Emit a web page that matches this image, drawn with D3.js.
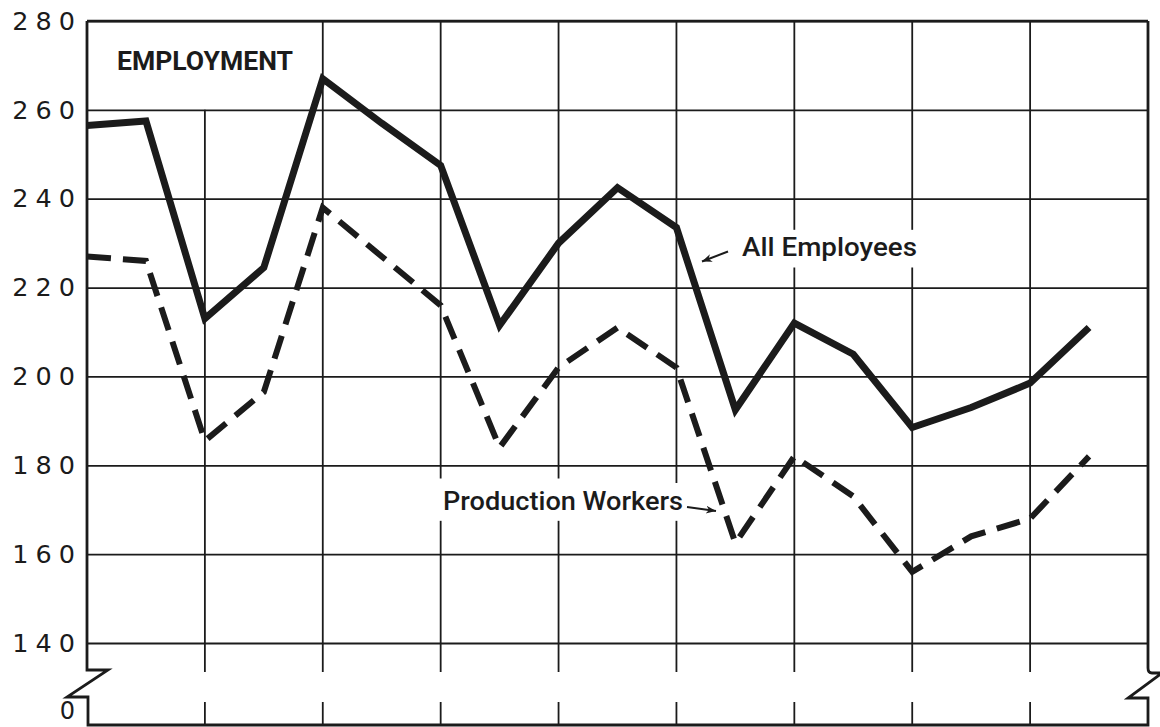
<!DOCTYPE html>
<html>
<head>
<meta charset="utf-8">
<script src="https://cdn.jsdelivr.net/npm/d3@7"></script>
<style>
  body { margin: 0; background: #fff; }
  .tick text { font-family: "DejaVu Sans", sans-serif; }
</style>
</head>
<body>
<svg id="chart" width="1160" height="727"></svg>
<script>
// half-year steps, 18 readings
const periods = d3.range(18);
const allEmployees = [256.5, 257.5, 213, 224.5, 267, 257, 247.5, 211.5, 230, 242.5, 233.5, 192.5, 212, 205, 188.5, 193, 198.5, 211];
const productionWorkers = [227, 226, 185.5, 196.5, 238, 227, 216, 184, 202, 211, 202, 162.5, 182, 173, 156, 164, 168, 182];
const yTicks = [140, 160, 180, 200, 220, 240, 260, 280];
const gridCols = [2, 4, 6, 8, 10, 12, 14, 16];
const chartTitle = 'EMPLOYMENT';
const seriesNames = ['All Employees', 'Production Workers'];

const mLeft = 87, mRight = 1148, mTop = 21, y140 = 643, base = 725;
const ink = '#1b1b1b';

const svg = d3.select('#chart');

let x = d3.scaleLinear().domain([0, 18]).range([mLeft, mRight]);
let y = d3.scaleLinear().domain([140, 280]).range([y140, mTop]);

// where the drawing leaves gaps in the vertical rules (y values)
const breakTop = 672, breakBot = 702;
const colGaps = {
    2: [[280, 260]],
    6: [[177, 167.5]],
    8: [[177, 167.5]],
    10: [[176, 167.5]],
    12: [[233, 224.5]],
    14: [[233, 224.5]]
};

// horizontal rules
svg.append('g')
    .attr('transform', 'translate(' + mLeft + ',0)')
    .call(d3.axisLeft(y).tickValues(yTicks).tickSize(-(mRight - mLeft)).tickFormat(''))
    .call(g => g.select('.domain').remove())
    .selectAll('line')
    .attr('stroke', ink).attr('stroke-width', 1.8);

// vertical rules, broken where labels sit and at the axis break
let vg = svg.append('g');
gridCols.forEach(c => {
    let segs = [[mTop, breakTop], [breakBot, base]];
    (colGaps[c] || []).forEach(gp => {
        let a = y(gp[0]), b = y(gp[1]);
        segs = segs.flatMap(s => {
            if (b <= s[0] || a >= s[1]) return [s];
            let out = [];
            if (a > s[0]) out.push([s[0], a]);
            if (b < s[1]) out.push([b, s[1]]);
            return out;
        });
    });
    segs.forEach(s => {
        vg.append('line')
            .attr('x1', x(c)).attr('x2', x(c))
            .attr('y1', s[0]).attr('y2', s[1])
            .attr('stroke', ink).attr('stroke-width', 1.8);
    });
});

// frame with broken-axis marks
svg.append('path')
    .attr('d', 'M' + mLeft + ',' + mTop + ' H' + mRight)
    .attr('stroke', ink).attr('stroke-width', 2.4).attr('fill', 'none');
svg.append('path')
    .attr('d', 'M' + mLeft + ',' + mTop + ' V670 H108 L67,697 H' + (mLeft + 1) + ' V' + base +
               ' H' + mRight + ' V698 H1128 L1162,673 H1152 Q1148,673 1148,668 V' + mTop)
    .attr('stroke', ink).attr('stroke-width', 2.8).attr('fill', 'none')
    .attr('stroke-linejoin', 'miter');

// y tick labels
svg.append('g')
    .attr('transform', 'translate(' + mLeft + ',0)')
    .call(d3.axisLeft(y).tickValues(yTicks).tickSize(0).tickPadding(5))
    .call(g => g.select('.domain').remove())
    .selectAll('text')
    .attr('font-size', 25.5)
    .attr('letter-spacing', 7)
    .attr('fill', ink);
svg.append('text')
    .attr('x', mLeft - 5).attr('y', base - 6)
    .attr('text-anchor', 'end')
    .attr('font-family', '"DejaVu Sans", sans-serif')
    .attr('font-size', 24).attr('letter-spacing', 7)
    .attr('fill', ink)
    .text('0');

// series lines
let line = d3.line().x((d, i) => x(periods[i])).y(d => y(d));

svg.append('path')
    .datum(productionWorkers)
    .attr('d', line)
    .attr('fill', 'none').attr('stroke', ink)
    .attr('stroke-width', 6)
    .attr('stroke-dasharray', '24 12')
    .attr('stroke-linejoin', 'miter');

svg.append('path')
    .datum(allEmployees)
    .attr('d', line)
    .attr('fill', 'none').attr('stroke', ink)
    .attr('stroke-width', 7)
    .attr('stroke-linejoin', 'miter');

// labels
let lab = svg.append('g')
    .attr('font-family', 'Roboto, sans-serif')
    .attr('fill', ink);

lab.append('text')
    .attr('x', 117).attr('y', 70)
    .attr('font-size', 26).attr('font-weight', 'bold')
    .attr('textLength', 176).attr('lengthAdjust', 'spacingAndGlyphs')
    .text(chartTitle);

lab.append('text')
    .attr('x', 742).attr('y', 256)
    .attr('font-size', 26).attr('font-weight', 500)
    .attr('textLength', 175).attr('lengthAdjust', 'spacingAndGlyphs')
    .text(seriesNames[0]);

lab.append('text')
    .attr('x', 443).attr('y', 510)
    .attr('font-size', 26).attr('font-weight', 500)
    .attr('textLength', 240).attr('lengthAdjust', 'spacingAndGlyphs')
    .text(seriesNames[1]);

// arrows
let defs = svg.append('defs');
defs.append('marker')
    .attr('id', 'head')
    .attr('viewBox', '-10 -5 12 10')
    .attr('refX', 0).attr('refY', 0)
    .attr('markerWidth', 12).attr('markerHeight', 10)
    .attr('markerUnits', 'userSpaceOnUse')
    .attr('orient', 'auto')
    .append('path')
    .attr('d', 'M0,0 L-10,-4 L-7,0 L-10,4 Z')
    .attr('fill', ink);

svg.append('line')
    .attr('x1', 728).attr('y1', 251.5).attr('x2', 702).attr('y2', 261.5)
    .attr('stroke', ink).attr('stroke-width', 2)
    .attr('marker-end', 'url(#head)');

svg.append('line')
    .attr('x1', 687).attr('y1', 507).attr('x2', 716).attr('y2', 511)
    .attr('stroke', ink).attr('stroke-width', 2)
    .attr('marker-end', 'url(#head)');
</script>
</body>
</html>
